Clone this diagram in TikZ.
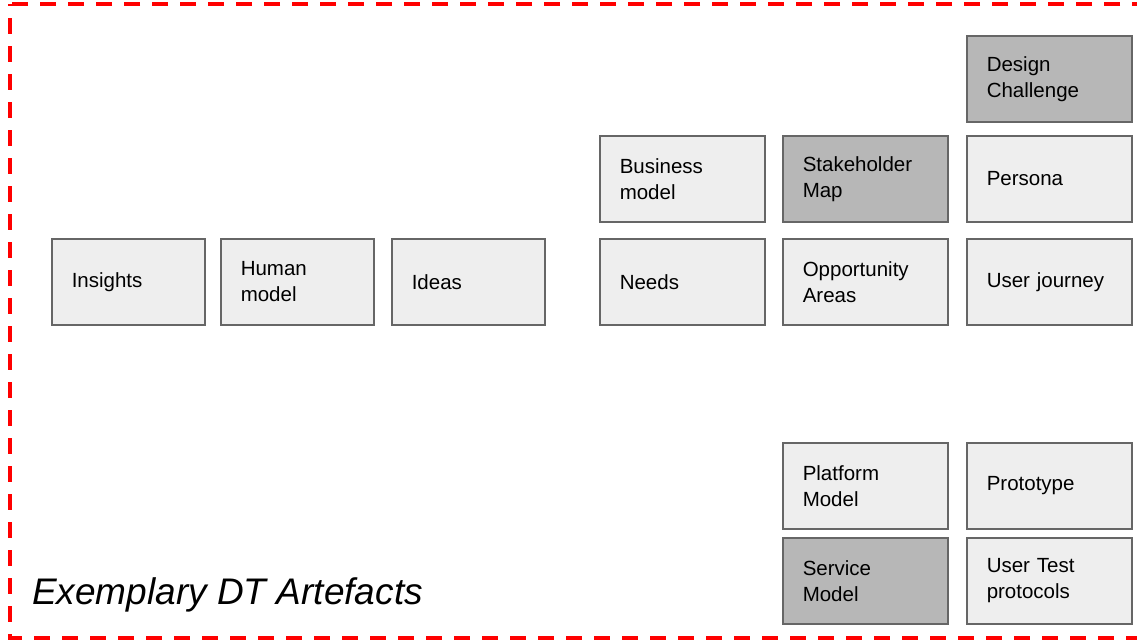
\documentclass[tikz,border=0pt]{standalone}
\usepackage{fontspec}
\setmainfont{Liberation Sans}
\definecolor{boxlight}{HTML}{EEEEEE}
\definecolor{boxdark}{HTML}{B7B7B7}
\definecolor{boxline}{HTML}{666666}
\definecolor{framered}{HTML}{FF0000}
\begin{document}
\begin{tikzpicture}[x=1pt,y=-1pt,
  artbox/.style={draw=boxline, fill=boxlight, line width=1.5pt, minimum height=86pt,
    inner xsep=20pt, inner ysep=0pt, align=left, anchor=north west,
    font=\fontsize{20.5}{26}\selectfont},
  narrowbox/.style={artbox, text width=113pt},
  widebox/.style={artbox, text width=125pt},
  darkbox/.style={fill=boxdark}]
\useasboundingbox (0,0) rectangle (1137,641);
\fill[white] (0,0) rectangle (1137,641);
\draw[framered, line width=4pt, dash pattern=on 16pt off 12pt, dash phase=14pt] (10,4) rectangle (1170,638);
% row 2
\node[narrowbox] (insights) at (51,238) {Insights};
\node[narrowbox] (human) at (220,238) {Human\\model};
\node[narrowbox] (ideas) at (391,238) {Ideas};
\node[widebox] (needs) at (599,238) {Needs};
\node[widebox] (opp) at (782,238) {Opportunity\\Areas};
\node[widebox] (journey) at (966,238) {User journey};
% row 1
\node[widebox] (business) at (599,135) {Business\\model};
\node[widebox, darkbox] (stake) at (782,135) {Stakeholder\\Map};
\node[widebox] (persona) at (966,135) {Persona};
% row 0
\node[widebox, darkbox] (challenge) at (966,35) {Design\\Challenge};
% row 3
\node[widebox] (platform) at (782,442) {Platform\\Model};
\node[widebox] (prototype) at (966,442) {Prototype};
% row 4
\node[widebox, darkbox] (service) at (782,537) {Service\\Model};
\node[widebox] (usertest) at (966,537) {User Test\\protocols};
% title
\node[anchor=base west, inner sep=0pt, font=\fontsize{37}{41}\selectfont\itshape] (title) at (32,604) {Exemplary DT Artefacts};
\end{tikzpicture}
\end{document}
